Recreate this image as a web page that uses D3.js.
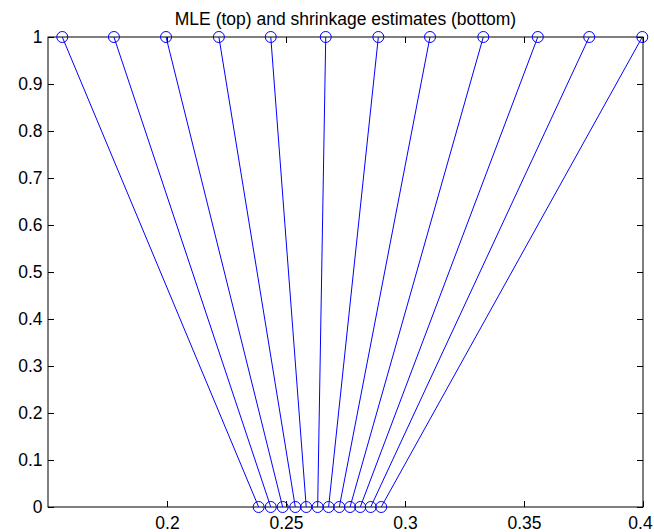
<!DOCTYPE html>
<html>
<head>
<meta charset="utf-8">
<script src="https://cdn.jsdelivr.net/npm/d3@7"></script>
<style>
  html, body { margin: 0; padding: 0; background: #fff; }
  svg { display: block; }
  text { font-family: "Liberation Sans", Arial, Helvetica, sans-serif; }
</style>
</head>
<body>
<svg id="chart" width="654" height="532"></svg>
<script>
// Maximum-likelihood estimates (drawn at y = 1)
const mleEstimates = [0.1560, 0.1777, 0.1996, 0.2218, 0.2436, 0.2667,
                      0.2888, 0.3105, 0.3329, 0.3558, 0.3774, 0.3997];
// Corresponding shrinkage estimates (drawn at y = 0)
const shrinkageEstimates = [0.2385, 0.2436, 0.2486, 0.2539, 0.2585, 0.2633,
                            0.2679, 0.2724, 0.2769, 0.2812, 0.2856, 0.2900];
const xTicks = [0.2, 0.25, 0.3, 0.35, 0.4];
const yTicks = [0, 0.1, 0.2, 0.3, 0.4, 0.5, 0.6, 0.7, 0.8, 0.9, 1];
const titleText = "MLE (top) and shrinkage estimates (bottom)";

const svg = d3.select("#chart");
const margin = { left: 48, right: 11, top: 37, bottom: 25 };
const W = 654, H = 532;

const x = d3.scaleLinear().domain([0.15, 0.4]).range([margin.left, W - margin.right]);
const y = d3.scaleLinear().domain([0, 1]).range([H - margin.bottom, margin.top]);

const blue = "#0000ff";
const fontSize = 17.5;
const tickLen = 6;

// Axes: bottom / left carry labels, top / right mirror the ticks
const xAxisBottom = d3.axisBottom(x).tickValues(xTicks).tickSizeInner(-tickLen).tickSizeOuter(0)
  .tickFormat(d3.format("~g"));
const xAxisTop = d3.axisTop(x).tickValues(xTicks).tickSizeInner(-tickLen).tickSizeOuter(0).tickFormat("");
const yAxisLeft = d3.axisLeft(y).tickValues(yTicks).tickSizeInner(-tickLen).tickSizeOuter(0)
  .tickPadding(5.5).tickFormat(d3.format("~g"));
const yAxisRight = d3.axisRight(y).tickValues(yTicks).tickSizeInner(-tickLen).tickSizeOuter(0).tickFormat("");

function styleAxis(g) {
  g.select(".domain").remove();
  g.selectAll(".tick line").attr("stroke", "#000").attr("stroke-width", 1);
  g.selectAll(".tick text").attr("fill", "#000").attr("font-size", fontSize)
    .attr("font-family", '"Liberation Sans", Arial, sans-serif');
}

const gx = svg.append("g").attr("transform", `translate(0,${y(0)})`).call(xAxisBottom).call(styleAxis);
gx.selectAll(".tick text").attr("y", 22).attr("dy", 0)
  // keep the label at the right edge inside the canvas
  .attr("dx", d => d === xTicks[xTicks.length - 1] ? -3 : 0);
svg.append("g").attr("transform", `translate(0,${y(1)})`).call(xAxisTop).call(styleAxis);
svg.append("g").attr("transform", `translate(${x(0.15)},0)`).call(yAxisLeft).call(styleAxis);
svg.append("g").attr("transform", `translate(${x(0.4)},0)`).call(yAxisRight).call(styleAxis);

// Plot box
svg.append("rect")
  .attr("x", x(0.15)).attr("y", y(1))
  .attr("width", x(0.4) - x(0.15)).attr("height", y(0) - y(1))
  .attr("fill", "none").attr("stroke", "#000").attr("stroke-width", 1);

// Lines from each MLE to its shrinkage estimate
const pairs = mleEstimates.map((m, i) => ({ mle: m, shrink: shrinkageEstimates[i] }));
svg.append("g").selectAll("line").data(pairs).join("line")
  .attr("x1", d => x(d.mle)).attr("y1", y(1))
  .attr("x2", d => x(d.shrink)).attr("y2", y(0))
  .attr("stroke", blue).attr("stroke-width", 1);

// Circle markers
const markerR = 5.5;
svg.append("g").selectAll("circle.top").data(mleEstimates).join("circle")
  .attr("cx", d => x(d)).attr("cy", y(1)).attr("r", markerR)
  .attr("fill", "none").attr("stroke", blue).attr("stroke-width", 1);
svg.append("g").selectAll("circle.bot").data(shrinkageEstimates).join("circle")
  .attr("cx", d => x(d)).attr("cy", y(0)).attr("r", markerR)
  .attr("fill", "none").attr("stroke", blue).attr("stroke-width", 1);

// Title
svg.append("text")
  .attr("x", (x(0.15) + x(0.4)) / 2).attr("y", 24.5)
  .attr("text-anchor", "middle").attr("font-size", fontSize).attr("fill", "#000")
  .text(titleText);
</script>
</body>
</html>
